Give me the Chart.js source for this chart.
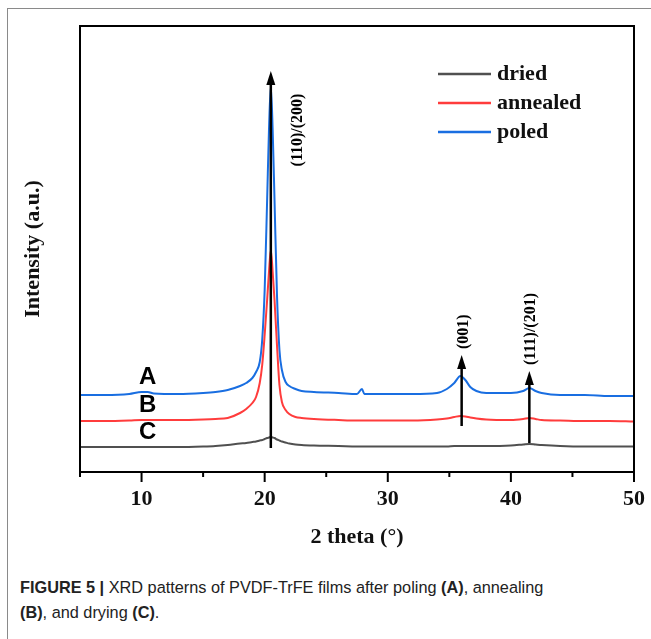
<!DOCTYPE html>
<html>
<head>
<meta charset="utf-8">
<script src="https://cdn.jsdelivr.net/npm/chart.js@4.4.1/dist/chart.umd.min.js"></script>
<style>
  html, body { margin: 0; padding: 0; background: #fff; }
  .fig {
    position: absolute; left: 7px; top: 8px; width: 644px; height: 631px;
    border-left: 1.5px solid #8a8a8a; border-top: 1.5px solid #8a8a8a;
  }
  .wrap { position: absolute; left: 0; top: 0; width: 651px; height: 560px; }
  .caption {
    position: absolute; left: 20px; top: 575px; width: 625px;
    font-family: "Liberation Sans", Arial, sans-serif; font-size: 16.3px;
    line-height: 25px; color: #222;
  }
  .caption b { font-weight: bold; }
</style>
</head>
<body>
<div class="fig"></div>
<div class="wrap"><canvas class="xrd" width="651" height="560"></canvas></div>
<div class="caption"><b>FIGURE 5 |</b> XRD patterns of PVDF-TrFE films after poling <b>(A)</b>, annealing<br><b>(B)</b>, and drying <b>(C)</b>.</div>
<script>
// data (2 theta in degrees, intensity in arbitrary units)
const twoTheta = [5, 7, 9, 10, 10.5, 11, 13, 15, 16, 17, 18, 18.5, 19, 19.3, 19.6, 19.8, 20.0, 20.2, 20.35, 20.5,
  20.65, 20.8, 21.0, 21.2, 21.4, 21.7, 22, 22.5, 23, 24, 26, 27.5, 27.9, 28.1, 30, 32, 34, 34.8, 35.4, 35.9,
  36.3, 36.7, 37.2, 38, 40, 41, 41.5, 42, 42.5, 44, 46, 48, 50];

const poled = [770, 770, 780, 800, 800, 785, 780, 790, 800, 820, 860, 890, 940, 1000, 1100, 1320, 1820, 2720, 3420, 3860,
  3420, 2720, 1770, 1220, 1020, 900, 860, 830, 810, 800, 790, 780, 830, 780, 780, 780, 790, 830, 890, 960,
  920, 850, 810, 790, 790, 810, 840, 810, 790, 770, 770, 760, 760];

const annealed = [510, 510, 515, 520, 520, 520, 520, 525, 530, 540, 590, 630, 690, 750, 890, 1070, 1370, 1720, 2000, 2220,
  2000, 1720, 1270, 870, 700, 620, 580, 550, 540, 530, 520, 515, 515, 515, 515, 515, 525, 535, 550, 560,
  555, 545, 535, 525, 520, 530, 540, 530, 520, 515, 510, 510, 505];

const dried = [250, 250, 250, 250, 250, 250, 250, 255, 260, 270, 285, 290, 300, 305, 315, 320, 330, 340, 345, 350,
  345, 340, 325, 315, 305, 295, 285, 275, 270, 265, 260, 255, 255, 255, 255, 255, 255, 255, 260, 260,
  260, 260, 260, 260, 265, 275, 280, 275, 270, 260, 255, 255, 255];

const seriesNames = ['dried', 'annealed', 'poled'];
const curveLetters = ['C', 'B', 'A'];

// peak arrows: position, start and end intensity, miller indices
const peakTheta = [20.5, 36, 41.5];
const peakFrom = [240, 460, 290];
const peakTo = [4010, 1170, 1010];
const peakLabels = ['(110)/(200)', '(001)', '(111)/(201)'];

const xTicks = [5, 10, 15, 20, 25, 30, 35, 40, 45, 50];

const serif = '"Liberation Serif", "Times New Roman", serif';
const sans = '"Liberation Sans", Arial, sans-serif';

function pts(ys) {
  return twoTheta.map((x, i) => ({ x: x, y: ys[i] }));
}

// box, tick marks, arrows, letters and legend
const extras = {
  id: 'extras',
  afterDatasetsDraw(chart) {
    const ctx = chart.ctx;
    const a = chart.chartArea;
    const xs = chart.scales.x, ys = chart.scales.y;
    ctx.save();

    // frame
    ctx.strokeStyle = '#000';
    ctx.lineWidth = 2;
    ctx.strokeRect(a.left, a.top, a.right - a.left, a.bottom - a.top);

    // x ticks, long on labelled ones
    xTicks.forEach(v => {
      const px = xs.getPixelForValue(v);
      const len = v % 10 === 0 ? 10 : 5;
      ctx.beginPath();
      ctx.moveTo(px, a.bottom);
      ctx.lineTo(px, a.bottom + len);
      ctx.stroke();
    });

    // arrows
    ctx.fillStyle = '#000';
    ctx.lineWidth = 2.5;
    peakTheta.forEach((t, i) => {
      const px = xs.getPixelForValue(t);
      const y0 = ys.getPixelForValue(peakFrom[i]);
      const y1 = ys.getPixelForValue(peakTo[i]);
      ctx.beginPath();
      ctx.moveTo(px, y0);
      ctx.lineTo(px, y1 + 10);
      ctx.stroke();
      ctx.beginPath();
      ctx.moveTo(px, y1);
      ctx.lineTo(px - 4.5, y1 + 14);
      ctx.lineTo(px + 4.5, y1 + 14);
      ctx.closePath();
      ctx.fill();

      ctx.save();
      ctx.font = 'bold 16px ' + serif;
      ctx.textBaseline = 'middle';
      if (i === 0) {
        ctx.translate(px + 27, y1 + 59);
        ctx.rotate(-Math.PI / 2);
        ctx.textAlign = 'center';
      } else {
        ctx.translate(px + 2, y1 - 6);
        ctx.rotate(-Math.PI / 2);
        ctx.textAlign = 'left';
      }
      ctx.fillText(peakLabels[i], 0, 0);
      ctx.restore();
    });

    // A / B / C next to the curves
    ctx.font = 'bold 24px ' + sans;
    ctx.textAlign = 'center';
    ctx.textBaseline = 'middle';
    const idx = twoTheta.indexOf(10.5);
    chart.data.datasets.forEach((ds, i) => {
      const py = ys.getPixelForValue(ds.data[idx].y);
      ctx.fillText(curveLetters[i], xs.getPixelForValue(10.5), py - 15);
    });

    // legend
    ctx.font = 'bold 22px ' + serif;
    ctx.textAlign = 'left';
    chart.data.datasets.forEach((ds, i) => {
      const ly = a.top + 48 + i * 29;
      ctx.strokeStyle = ds.borderColor;
      ctx.lineWidth = 2.5;
      ctx.beginPath();
      ctx.moveTo(a.right - 196, ly);
      ctx.lineTo(a.right - 143, ly);
      ctx.stroke();
      ctx.fillStyle = '#111';
      ctx.fillText(ds.label, a.right - 137, ly);
    });

    ctx.restore();
  }
};

const ctx = document.querySelector('.xrd');
new Chart(ctx, {
  type: 'line',
  data: {
    datasets: [
      {
        label: seriesNames[0],
        data: pts(dried),
        borderColor: 'rgb(80, 80, 80)',
        borderWidth: 2,
        pointRadius: 0,
        cubicInterpolationMode: 'monotone',
        fill: false
      },
      {
        label: seriesNames[1],
        data: pts(annealed),
        borderColor: 'rgb(255, 60, 60)',
        borderWidth: 2,
        pointRadius: 0,
        cubicInterpolationMode: 'monotone',
        fill: false
      },
      {
        label: seriesNames[2],
        data: pts(poled),
        borderColor: 'rgb(25, 110, 225)',
        borderWidth: 2,
        pointRadius: 0,
        cubicInterpolationMode: 'monotone',
        fill: false
      }
    ]
  },
  options: {
    responsive: false,
    animation: false,
    events: [],
    layout: {
      padding: { top: 26, right: 17, left: 0, bottom: 0 }
    },
    scales: {
      x: {
        type: 'linear',
        min: 5,
        max: 50,
        afterFit: s => { s.height = 88; s.paddingLeft = 0; s.paddingRight = 0; },
        grid: { display: false, drawTicks: false },
        border: { display: false },
        ticks: {
          stepSize: 5,
          padding: 14,
          color: '#111',
          font: { family: serif, size: 22, weight: 'bold' },
          callback: v => (v % 10 === 0 ? v : '')
        },
        title: {
          display: true,
          text: '2 theta (°)',
          color: '#111',
          font: { family: serif, size: 22, weight: 'bold' },
          padding: { top: 0, bottom: 9 }
        }
      },
      y: {
        min: 0,
        max: 4460,
        afterFit: s => { s.width = 80; },
        grid: { display: false, drawTicks: false },
        border: { display: false },
        ticks: { display: false },
        title: {
          display: true,
          text: 'Intensity (a.u.)',
          color: '#111',
          font: { family: serif, size: 22, weight: 'bold' },
          padding: { top: 20, bottom: 0 }
        }
      }
    },
    plugins: {
      legend: { display: false },
      tooltip: { enabled: false }
    }
  },
  plugins: [extras]
});
</script>
</body>
</html>
